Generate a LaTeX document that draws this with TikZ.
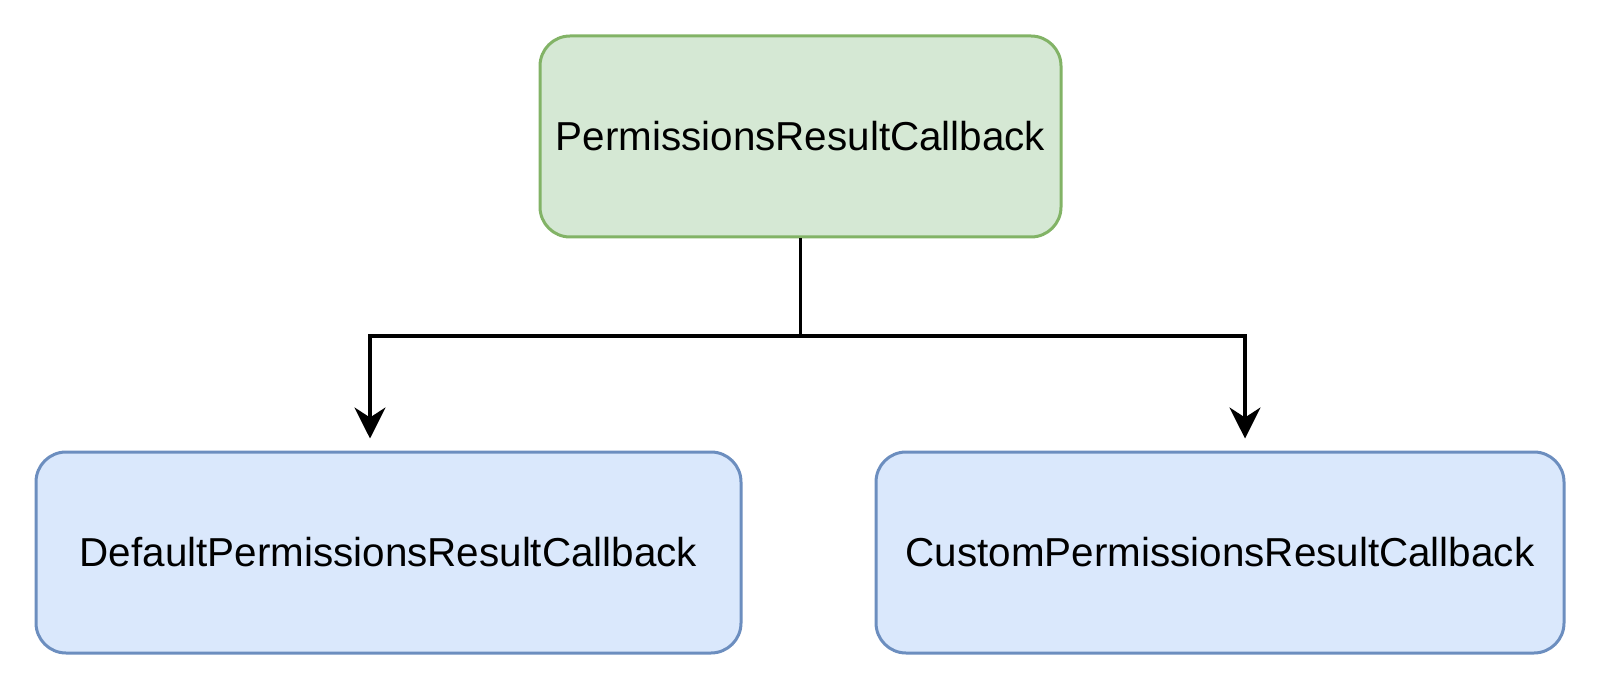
\documentclass[tikz,border=0pt]{standalone}
\usepackage{fontspec}
\setmainfont{Liberation Sans}
\usetikzlibrary{arrows.meta}
\definecolor{gfill}{HTML}{D5E8D4}
\definecolor{gdraw}{HTML}{82B366}
\definecolor{bfill}{HTML}{DAE8FC}
\definecolor{bdraw}{HTML}{6C8EBF}
\tikzset{
  box/.style={rectangle, rounded corners=15pt, line width=1.5pt, minimum height=100.5pt,
    font=\fontsize{20.2}{24}\selectfont, inner sep=0pt},
  greenbox/.style={box, fill=gfill, draw=gdraw},
  bluebox/.style={box, fill=bfill, draw=bdraw},
  link/.style={line width=1.7pt},
  arr/.style={link, -{Stealth[length=15.5pt, width=15.5pt, inset=5pt]}},
}
\begin{document}
\begin{tikzpicture}[x=0.5pt, y=-0.5pt]
\useasboundingbox (0,0) rectangle (1600,689);
\node[greenbox, minimum width=260.5pt] (top) at (800.5,136.5) {PermissionsResultCallback};
\node[bluebox, minimum width=352.5pt] (left) at (388.5,552.5) {DefaultPermissionsResultCallback};
\node[bluebox, minimum width=344pt] (right) at (1220,552.5) {CustomPermissionsResultCallback};
\coordinate (mid) at (800.5,336);
\draw[link] (top.south) -- (mid);
\draw[arr] (mid) -| ([xshift=-9.25pt, yshift=6pt]left.north);
\draw[arr] (mid) -| ([xshift=12.5pt, yshift=6pt]right.north);
\end{tikzpicture}
\end{document}
